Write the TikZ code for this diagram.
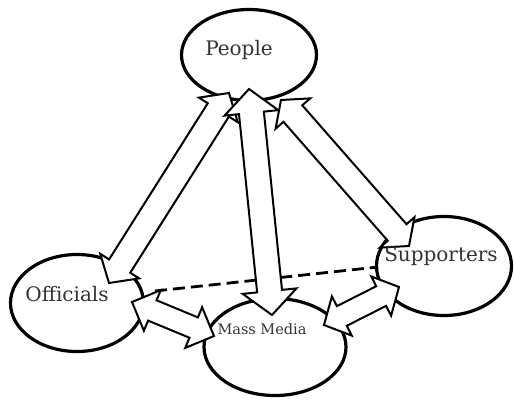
\documentclass[tikz,border=0pt]{standalone}
\usepackage{fontspec}
\setmainfont{DejaVu Serif}
\usetikzlibrary{calc,shapes.geometric}
\tikzset{
  bubble/.style={draw=black, fill=white, ellipse, line width=3.2pt, inner sep=0pt},
  blockarr/.style={draw=black, fill=white, line width=2pt, line join=miter},
  lbl/.style={inner sep=0pt, font=\fontsize{20}{22}\selectfont, text=black!80},
  dashlink/.style={line width=2.8pt, dash pattern=on 12pt off 6pt}
}
\newcommand\blockarrow[5]{%
  \path ($(#1)!#5!(#2)$) coordinate (ba1) ($(#2)!#5!(#1)$) coordinate (bb1);
  \draw[blockarr] (#1) -- ($(ba1)!#4!90:(#2)$) -- ($(ba1)!#3!90:(#2)$)
    -- ($(bb1)!#3!-90:(#1)$) -- ($(bb1)!#4!-90:(#1)$) -- (#2)
    -- ($(bb1)!#4!90:(#1)$) -- ($(bb1)!#3!90:(#1)$)
    -- ($(ba1)!#3!-90:(#2)$) -- ($(ba1)!#4!-90:(#2)$) -- cycle;
}
\begin{document}
\begin{tikzpicture}[x=1pt,y=-1pt]
\useasboundingbox (0,0) rectangle (514,400);
\fill[white] (0,0) rectangle (514,400);
% ellipses
\node[bubble, minimum width=135pt, minimum height=91pt] (people) at (249,55) {};
\node[bubble, minimum width=133pt, minimum height=97pt] (officials) at (77,303) {};
\node[bubble, minimum width=142pt, minimum height=97pt] (media) at (275,347) {};
\node[bubble, minimum width=135pt, minimum height=99pt] (supporters) at (444,266) {};
% dashed link
\coordinate (dl) at (155,291);
\coordinate (dr) at (378,267);
\draw[dashlink] (dl) -- (dr);
% arrow tips
\coordinate (po) at (229,93);
\coordinate (op) at (109,283);
\coordinate (pm) at (249,89);
\coordinate (mp) at (272,315);
\coordinate (ps) at (281,100);
\coordinate (sp) at (409,246);
\coordinate (om) at (132,302);
\coordinate (mo) at (214,336);
\coordinate (ms) at (324,325);
\coordinate (sm) at (399,287);
\blockarrow{op}{po}{12.5pt}{23pt}{20pt}
\blockarrow{mp}{pm}{12.5pt}{27pt}{24pt}
\blockarrow{ps}{sp}{12.5pt}{23pt}{18pt}
\blockarrow{om}{mo}{11pt}{22pt}{22pt}
\blockarrow{ms}{sm}{11pt}{22pt}{20pt}
% labels
\node[lbl] (tpeople) at (239,50) {People};
\node[lbl] (tofficials) at (67,294) {Officials};
\node[lbl] (tsupporters) at (441,256) {Supporters};
\node[lbl, font=\fontsize{14.5}{16}\selectfont] (tmedia) at (262,329) {Mass Media};
\end{tikzpicture}
\end{document}
